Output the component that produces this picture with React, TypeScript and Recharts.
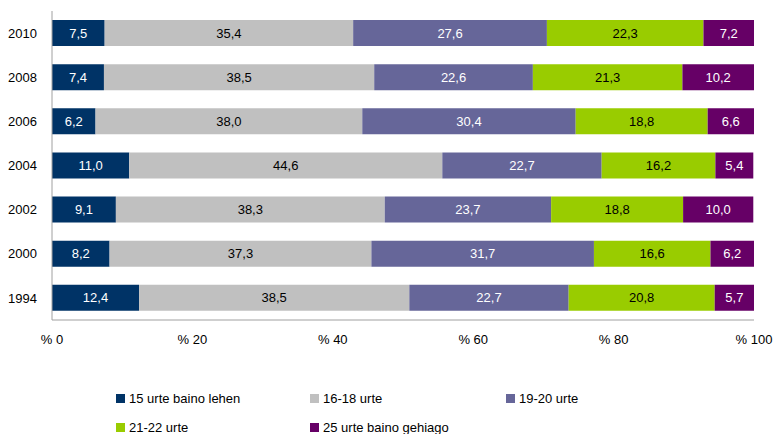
import React from 'react';
import { BarChart, Bar, XAxis, YAxis, LabelList } from 'recharts';

const years = ['2010', '2008', '2006', '2004', '2002', '2000', '1994'];
const under15 = [7.5, 7.4, 6.2, 11.0, 9.1, 8.2, 12.4];
const age16to18 = [35.4, 38.5, 38.0, 44.6, 38.3, 37.3, 38.5];
const age19to20 = [27.6, 22.6, 30.4, 22.7, 23.7, 31.7, 22.7];
const age21to22 = [22.3, 21.3, 18.8, 16.2, 18.8, 16.6, 20.8];
const over25 = [7.2, 10.2, 6.6, 5.4, 10.0, 6.2, 5.7];
const xTicks = [0, 20, 40, 60, 80, 100];

const series = [
  { key: 'a', name: '15 urte baino lehen', color: '#003366', text: '#ffffff', values: under15 },
  { key: 'b', name: '16-18 urte', color: '#C0C0C0', text: '#000000', values: age16to18 },
  { key: 'c', name: '19-20 urte', color: '#666699', text: '#ffffff', values: age19to20 },
  { key: 'd', name: '21-22 urte', color: '#99CC00', text: '#000000', values: age21to22 },
  { key: 'e', name: '25 urte baino gehiago', color: '#660066', text: '#ffffff', values: over25 },
];

const data = years.map((y, i) => {
  const row: Record<string, any> = { year: y };
  series.forEach((s) => {
    row[s.key] = s.values[i];
  });
  return row;
});

const FONT = '"Liberation Sans", Arial, sans-serif';
const FS = 13;
const fmt = (v: any) => Number(v).toFixed(1).replace('.', ',');

const legendPos = [
  { left: 116, top: 391 },
  { left: 310, top: 391 },
  { left: 506, top: 391 },
  { left: 116, top: 420 },
  { left: 310, top: 420 },
];

export default function App() {
  return (
    <div style={{ position: 'absolute', left: 0, top: 0, width: 774, height: 434, background: '#fff', fontFamily: FONT }}>
      <BarChart
        width={774}
        height={434}
        data={data}
        layout="vertical"
        margin={{ top: 11, right: 20, bottom: 84, left: 0 }}
        barSize={26}
      >
        <XAxis
          type="number"
          domain={[0, 100]}
          allowDataOverflow
          ticks={xTicks}
          tickFormatter={(v) => '% ' + v}
          axisLine={{ stroke: '#a0a0a0' }}
          tickLine={false}
          tickMargin={9}
          height={30}
          tick={{ fill: '#000', fontSize: FS, fontFamily: FONT }}
          interval={0}
        />
        <YAxis
          type="category"
          dataKey="year"
          width={52}
          axisLine={{ stroke: '#a0a0a0' }}
          tickLine={false}
          tickMargin={9}
          tick={{ fill: '#000', fontSize: FS, fontFamily: FONT }}
          interval={0}
        />
        {series.map((s) => (
          <Bar key={s.key} dataKey={s.key} name={s.name} stackId="s" fill={s.color} isAnimationActive={false}>
            <LabelList
              dataKey={s.key}
              position="center"
              formatter={fmt}
              fill={s.text}
              style={{ fontSize: FS, fontFamily: FONT }}
            />
          </Bar>
        ))}
      </BarChart>
      {series.map((s, i) => (
        <div
          key={s.key}
          style={{
            position: 'absolute',
            left: legendPos[i].left,
            top: legendPos[i].top,
            display: 'flex',
            alignItems: 'center',
            fontSize: FS,
            color: '#000',
            whiteSpace: 'nowrap',
            lineHeight: '15px',
          }}
        >
          <span style={{ display: 'inline-block', width: 9, height: 9, background: s.color, marginRight: 4 }} />
          {s.name}
        </div>
      ))}
    </div>
  );
}
